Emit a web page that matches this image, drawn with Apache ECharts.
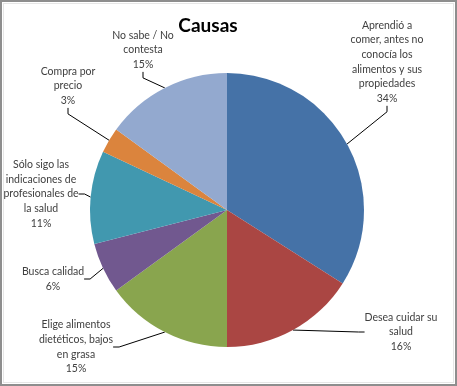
<!DOCTYPE html>
<html><head><meta charset="utf-8">
<script src="https://cdn.jsdelivr.net/npm/echarts@6/dist/echarts.min.js"></script>
<style>
html,body{margin:0;padding:0;background:#fff;}
#frame{position:absolute;left:0;top:0;width:457px;height:386px;box-sizing:border-box;border:2px solid #8e8e8e;}
#inner{position:absolute;left:3px;top:3px;width:451px;height:380px;box-sizing:border-box;border:1px solid #e6e6e6;}
#chart{position:absolute;left:0;top:0;width:457px;height:386px;}
</style></head>
<body>
<div id="chart"></div>
<div id="frame"></div><div id="inner"></div>
<script>
const title = "Causas";
const categories = [
  "Aprendió a\ncomer, antes no\nconocía los\nalimentos y sus\npropiedades",
  "Desea cuidar su\nsalud",
  "Elige alimentos\ndietéticos, bajos\nen grasa",
  "Busca calidad",
  "Sólo sigo las\nindicaciones de\nprofesionales de\nla salud",
  "Compra por\nprecio",
  "No sabe / No\ncontesta"
];
const values = [34, 16, 15, 6, 11, 3, 15];
const colors = ["#4572A7", "#AA4643", "#89A54E", "#71588F", "#4198AF", "#DB843D", "#93A9CF"];
// label anchor (center x, middle y) per slice
const labelX = [387, 401, 76, 53, 41, 68, 143];
const labelY = [62, 332, 347, 279, 194, 86, 50];

const chart = echarts.init(document.getElementById('chart'));
chart.setOption({
  animation: false,
  title: {
    text: title, left: 203, top: 11, textAlign: 'center',
    textStyle: {fontFamily: 'Lato', fontWeight: 'bold', fontSize: 19, color: '#000'}
  },
  series: [{
    type: 'pie',
    center: [227, 210],
    radius: 137,
    startAngle: 90,
    clockwise: true,
    data: categories.map((c, i) => ({name: c, value: values[i], itemStyle: {color: colors[i]}})),
    label: {
      formatter: '{b}\n{d}%',
      fontFamily: 'Lato', fontSize: 10.5, lineHeight: 14.6, color: '#404040', align: 'center',
      overflow: 'none'
    },
    labelLine: {show: true, lineStyle: {color: '#000', width: 1}, length: 10, length2: 6},
    labelLayout: function (p) {
      return {x: labelX[p.dataIndex], y: labelY[p.dataIndex], align: 'center', verticalAlign: 'middle'};
    },
    itemStyle: {borderWidth: 0}
  }]
});
</script>
</body></html>
